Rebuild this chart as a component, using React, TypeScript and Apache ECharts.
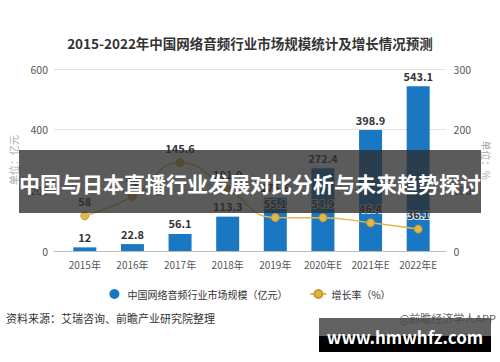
import React, { useEffect, useRef } from "react";
import * as echarts from "echarts";

const years = ["2015年", "2016年", "2017年", "2018年", "2019年", "2020年E", "2021年E", "2022年E"];
const marketSize = [12, 22.8, 56.1, 113.3, 175.6, 272.4, 398.9, 543.1];
const growthRate = [58, 90, 145.6, 101.9, 55.1, 54.9, 46.4, 36.1];
const leftTicks = { min: 0, max: 600, interval: 200 };
const rightTicks = { min: 0, max: 300, interval: 100 };

const FONT = '"Noto Sans CJK SC", "Noto Sans", sans-serif';

export default function App() {
  const ref = useRef<HTMLDivElement>(null);
  useEffect(() => {
    if (!ref.current) return;
    const chart = echarts.init(ref.current, undefined, { renderer: "svg" });
    const option: any = {
      animation: false,
      backgroundColor: "#ffffff",
      textStyle: { fontFamily: FONT },
      grid: [
        { left: 61, right: 58, top: 69, bottom: 111 },
        { left: 53, right: 53, top: 69, bottom: 111 },
      ],
      xAxis: [
        {
          type: "category",
          gridIndex: 0,
          data: years,
          axisLine: { show: false },
          axisTick: { show: false },
          axisLabel: { color: "#555", fontSize: 10, margin: 8, interval: 0, fontFamily: FONT },
        },
        {
          type: "value",
          gridIndex: 1,
          min: 0,
          max: 1,
          axisLine: { show: true, onZero: false, lineStyle: { color: "#bbb", width: 1 } },
          axisTick: { show: false },
          axisLabel: { show: false },
          splitLine: { show: false },
        },
      ],
      yAxis: [
        { type: "value", gridIndex: 0, ...leftTicks, show: false },
        { type: "value", gridIndex: 0, ...rightTicks, show: false },
        {
          type: "value",
          gridIndex: 1,
          position: "left",
          ...leftTicks,
          axisLine: { show: false },
          axisTick: { show: false },
          axisLabel: { color: "#555", fontSize: 10.5, margin: 6, fontFamily: FONT },
          splitLine: { lineStyle: { color: "#e2e2e2", width: 1 } },
          name: "单位：亿元",
          nameLocation: "middle",
          nameRotate: 90,
          nameGap: 36,
          nameTextStyle: { color: "#aaa", fontSize: 10, fontFamily: FONT },
        },
        {
          type: "value",
          gridIndex: 1,
          position: "right",
          ...rightTicks,
          axisLine: { show: false },
          axisTick: { show: false },
          axisLabel: { color: "#555", fontSize: 10.5, margin: 8, fontFamily: FONT },
          splitLine: { show: false },
          name: "单位：%",
          nameLocation: "middle",
          nameRotate: -90,
          nameGap: 36,
          nameTextStyle: { color: "#aaa", fontSize: 10, fontFamily: FONT },
        },
      ],
      legend: {
        top: 284,
        left: "center",
        itemGap: 22,
        itemWidth: 16,
        itemHeight: 10,
        textStyle: { color: "#333", fontSize: 10, fontFamily: FONT },
        data: [
          { name: "中国网络音频行业市场规模（亿元）", icon: "circle" },
          { name: "增长率（%）" },
        ],
      },
      series: [
        {
          name: "中国网络音频行业市场规模（亿元）",
          type: "bar",
          xAxisIndex: 0,
          yAxisIndex: 0,
          data: marketSize,
          barWidth: 23,
          itemStyle: { color: "#1a78c2" },
          label: {
            show: true,
            position: "top",
            distance: 5,
            color: "#333",
            fontSize: 11,
            fontWeight: "bold",
            fontFamily: FONT,
          },
          z: 2,
        },
        {
          name: "增长率（%）",
          type: "line",
          xAxisIndex: 0,
          yAxisIndex: 1,
          data: growthRate,
          smooth: true,
          symbol: "circle",
          symbolSize: 8,
          lineStyle: { color: "#e2b64a", width: 1.5 },
          itemStyle: { color: "#e2b64a", borderColor: "#c99a2a", borderWidth: 1 },
          label: {
            show: true,
            position: "top",
            distance: 5,
            color: "#333",
            fontSize: 11,
            fontWeight: "bold",
            fontFamily: FONT,
            textBorderColor: "rgba(255,255,255,0.8)",
            textBorderWidth: 2,
          },
          z: 3,
        },
      ],
      graphic: [
        {
          type: "text",
          x: 250,
          y: 43,
          style: {
            text: "2015-2022年中国网络音频行业市场规模统计及增长情况预测",
            fill: "#333",
            font: `bold 13.5px ${FONT}`,
            textAlign: "center",
            textVerticalAlign: "middle",
          },
        },
        {
          type: "text",
          x: 6,
          y: 318,
          style: {
            text: "资料来源：艾瑞咨询、前瞻产业研究院整理",
            fill: "#333",
            font: `11px ${FONT}`,
            textAlign: "left",
            textVerticalAlign: "middle",
          },
        },
        {
          type: "text",
          x: 496,
          y: 318,
          style: {
            text: "@前瞻经济学人APP",
            fill: "#666",
            font: `11px ${FONT}`,
            textAlign: "right",
            textVerticalAlign: "middle",
          },
        },
        {
          type: "rect",
          z: 100,
          shape: { x: 19, y: 150, width: 462, height: 63 },
          style: { fill: "rgba(45,45,45,0.78)" },
        },
        {
          type: "text",
          z: 101,
          x: 250,
          y: 183,
          style: {
            text: "中国与日本直播行业发展对比分析与未来趋势探讨",
            fill: "#ffffff",
            font: `bold 21px ${FONT}`,
            textAlign: "center",
            textVerticalAlign: "middle",
          },
        },
        {
          type: "rect",
          z: 100,
          shape: { x: 319, y: 318, width: 172, height: 18 },
          style: { fill: "rgba(70,70,70,0.85)" },
        },
        {
          type: "rect",
          z: 100,
          shape: { x: 319, y: 336, width: 172, height: 16 },
          style: { fill: "#000000" },
        },
        {
          type: "text",
          z: 101,
          x: 405,
          y: 336,
          style: {
            text: "www.hmwhfz.com",
            fill: "#ffffff",
            font: `bold 17px ${FONT}`,
            textAlign: "center",
            textVerticalAlign: "middle",
          },
        },
      ],
    };
    chart.setOption(option);
    return () => chart.dispose();
  }, []);
  return (
    <div
      ref={ref}
      style={{ position: "fixed", left: 0, top: 0, width: 500, height: 362, background: "#fff" }}
    />
  );
}
